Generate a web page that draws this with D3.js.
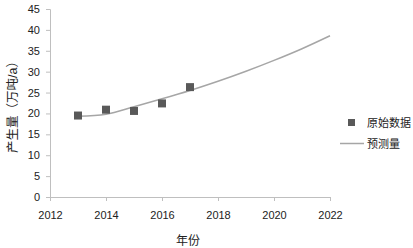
<!DOCTYPE html>
<html>
<head>
<meta charset="utf-8">
<script src="https://cdn.jsdelivr.net/npm/d3@7"></script>
<style>
  body { margin: 0; background: #fff; }
  text { font-family: "Liberation Sans", "Noto Sans CJK SC", sans-serif; }
</style>
</head>
<body>
<div id="viz"></div>
<script>
// observed data
var obsYears = [2013, 2014, 2015, 2016, 2017];
var obsValues = [19.5, 20.9, 20.6, 22.4, 26.3];
// predicted series
var predYears = [2013, 2014, 2015, 2016, 2017, 2018, 2019, 2020, 2021, 2022];
var predValues = [19.3, 19.8, 21.6, 23.5, 25.5, 27.7, 30.1, 32.7, 35.5, 38.6];
var xTicks = [2012, 2014, 2016, 2018, 2020, 2022];
var yTicks = [0, 5, 10, 15, 20, 25, 30, 35, 40, 45];
var legendLabels = ["原始数据", "预测量"];

var width = 413, height = 248;
var margin = { top: 9, right: 83, bottom: 51, left: 50 };

var svg = d3.select("#viz").append("svg")
  .attr("width", width)
  .attr("height", height);

var x = d3.scaleLinear().domain([2012, 2022]).range([margin.left, width - margin.right]);
var y = d3.scaleLinear().domain([0, 45]).range([height - margin.bottom, margin.top]);

var axisColor = "#bfbfbf";

var xAxis = svg.append("g")
  .attr("transform", "translate(0," + (height - margin.bottom) + ")")
  .call(d3.axisBottom(x).tickValues(xTicks).tickFormat(d3.format("d")).tickSize(4).tickPadding(10));
var yAxis = svg.append("g")
  .attr("transform", "translate(" + margin.left + ",0)")
  .call(d3.axisLeft(y).tickValues(yTicks).tickSize(4).tickPadding(6));

[xAxis, yAxis].forEach(function (g) {
  g.select(".domain").attr("stroke", axisColor);
  g.selectAll(".tick line").attr("stroke", axisColor);
  g.selectAll(".tick text").attr("fill", "#222").style("font-size", "11px");
});

// axis titles
svg.append("text")
  .attr("x", 188)
  .attr("y", 245)
  .attr("text-anchor", "middle")
  .style("font-size", "12px")
  .attr("fill", "#222")
  .text("年份");

svg.append("text")
  .attr("transform", "translate(17," + 104 + ") rotate(-90)")
  .attr("text-anchor", "middle")
  .style("font-size", "12.5px")
  .attr("fill", "#222")
  .text("产生量（万吨/a）");

// prediction line
var line = d3.line()
  .x(function (d, i) { return x(predYears[i]); })
  .y(function (d) { return y(d); })
  .curve(d3.curveCatmullRom);

svg.append("path")
  .datum(predValues)
  .attr("d", line)
  .attr("fill", "none")
  .attr("stroke", "#a6a6a6")
  .attr("stroke-width", 1.5);

// observed points
var sz = 8;
svg.selectAll(".pt")
  .data(obsValues)
  .enter()
  .append("rect")
  .attr("class", "pt")
  .attr("x", function (d, i) { return x(obsYears[i]) - sz / 2; })
  .attr("y", function (d) { return y(d) - sz / 2; })
  .attr("width", sz)
  .attr("height", sz)
  .attr("fill", "#595959");

// legend
var lg = svg.append("g");
lg.append("rect")
  .attr("x", 348).attr("y", 119)
  .attr("width", 7).attr("height", 7)
  .attr("fill", "#595959");
lg.append("line")
  .attr("x1", 340).attr("x2", 364)
  .attr("y1", 143.5).attr("y2", 143.5)
  .attr("stroke", "#a6a6a6")
  .attr("stroke-width", 1.5);
lg.selectAll(".lt")
  .data(legendLabels)
  .enter()
  .append("text")
  .attr("class", "lt")
  .attr("x", 367)
  .attr("y", function (d, i) { return 127 + i * 20.5; })
  .style("font-size", "11px")
  .attr("fill", "#222")
  .text(function (d) { return d; });
</script>
</body>
</html>
